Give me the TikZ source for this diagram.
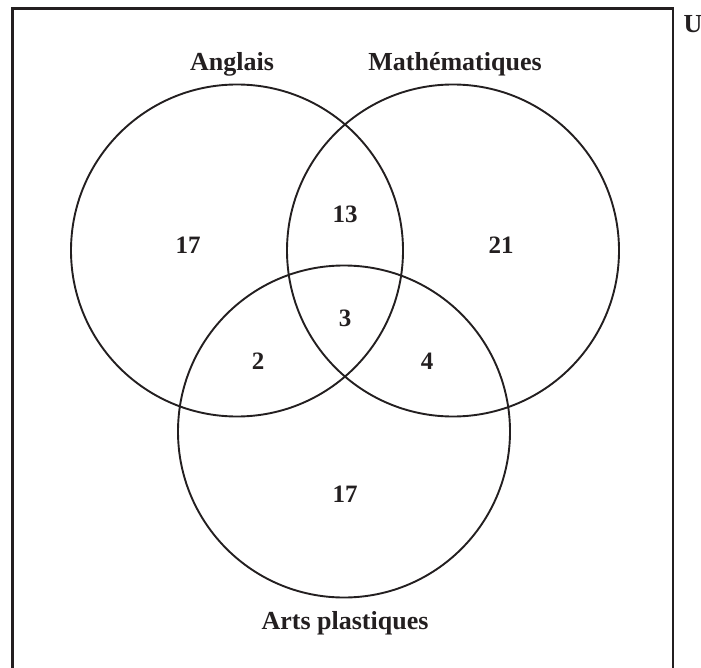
\documentclass[tikz,border=0pt]{standalone}
\usepackage{fontspec}
\setmainfont{Liberation Serif}
\definecolor{ink}{HTML}{231F20}
\begin{document}
\begin{tikzpicture}[x=1pt,y=-1pt,
  setcircle/.style={draw=ink,line width=1.9pt,circle,minimum size=332pt,inner sep=0pt},
  setlabel/.style={text=ink,anchor=base,inner sep=0pt,font=\fontsize{26}{30}\selectfont\bfseries},
  count/.style={text=ink,anchor=base,inner sep=0pt,font=\fontsize{25}{30}\selectfont\bfseries}]
\useasboundingbox (0,0) rectangle (701,668);
% universe frame
\coordinate (bl) at (12.5,668);
\coordinate (tl) at (12.5,8.5);
\coordinate (tr) at (673,8.5);
\coordinate (br) at (673,668);
\draw[ink,line width=2.2pt] (bl) -- (tl) -- (tr) -- (br);
\node[setlabel] (U) at (693,33) {U};
% circles
\node[setcircle] (A) at (237,250.5) {};
\node[setcircle] (M) at (453,250.5) {};
\node[setcircle] (P) at (344,431.5) {};
% set labels
\node[setlabel] (lA) at (232,70.5) {Anglais};
\node[setlabel] (lM) at (455,70.5) {Mathématiques};
\node[setlabel] (lP) at (345,629) {Arts plastiques};
% counts
\node[count] (nA) at (188,254) {17};
\node[count] (nAM) at (345,222.5) {13};
\node[count] (nM) at (501,254) {21};
\node[count] (nAMP) at (345,326) {3};
\node[count] (nAP) at (258,369) {2};
\node[count] (nMP) at (427,369) {4};
\node[count] (nP) at (345,502) {17};
\end{tikzpicture}
\end{document}
